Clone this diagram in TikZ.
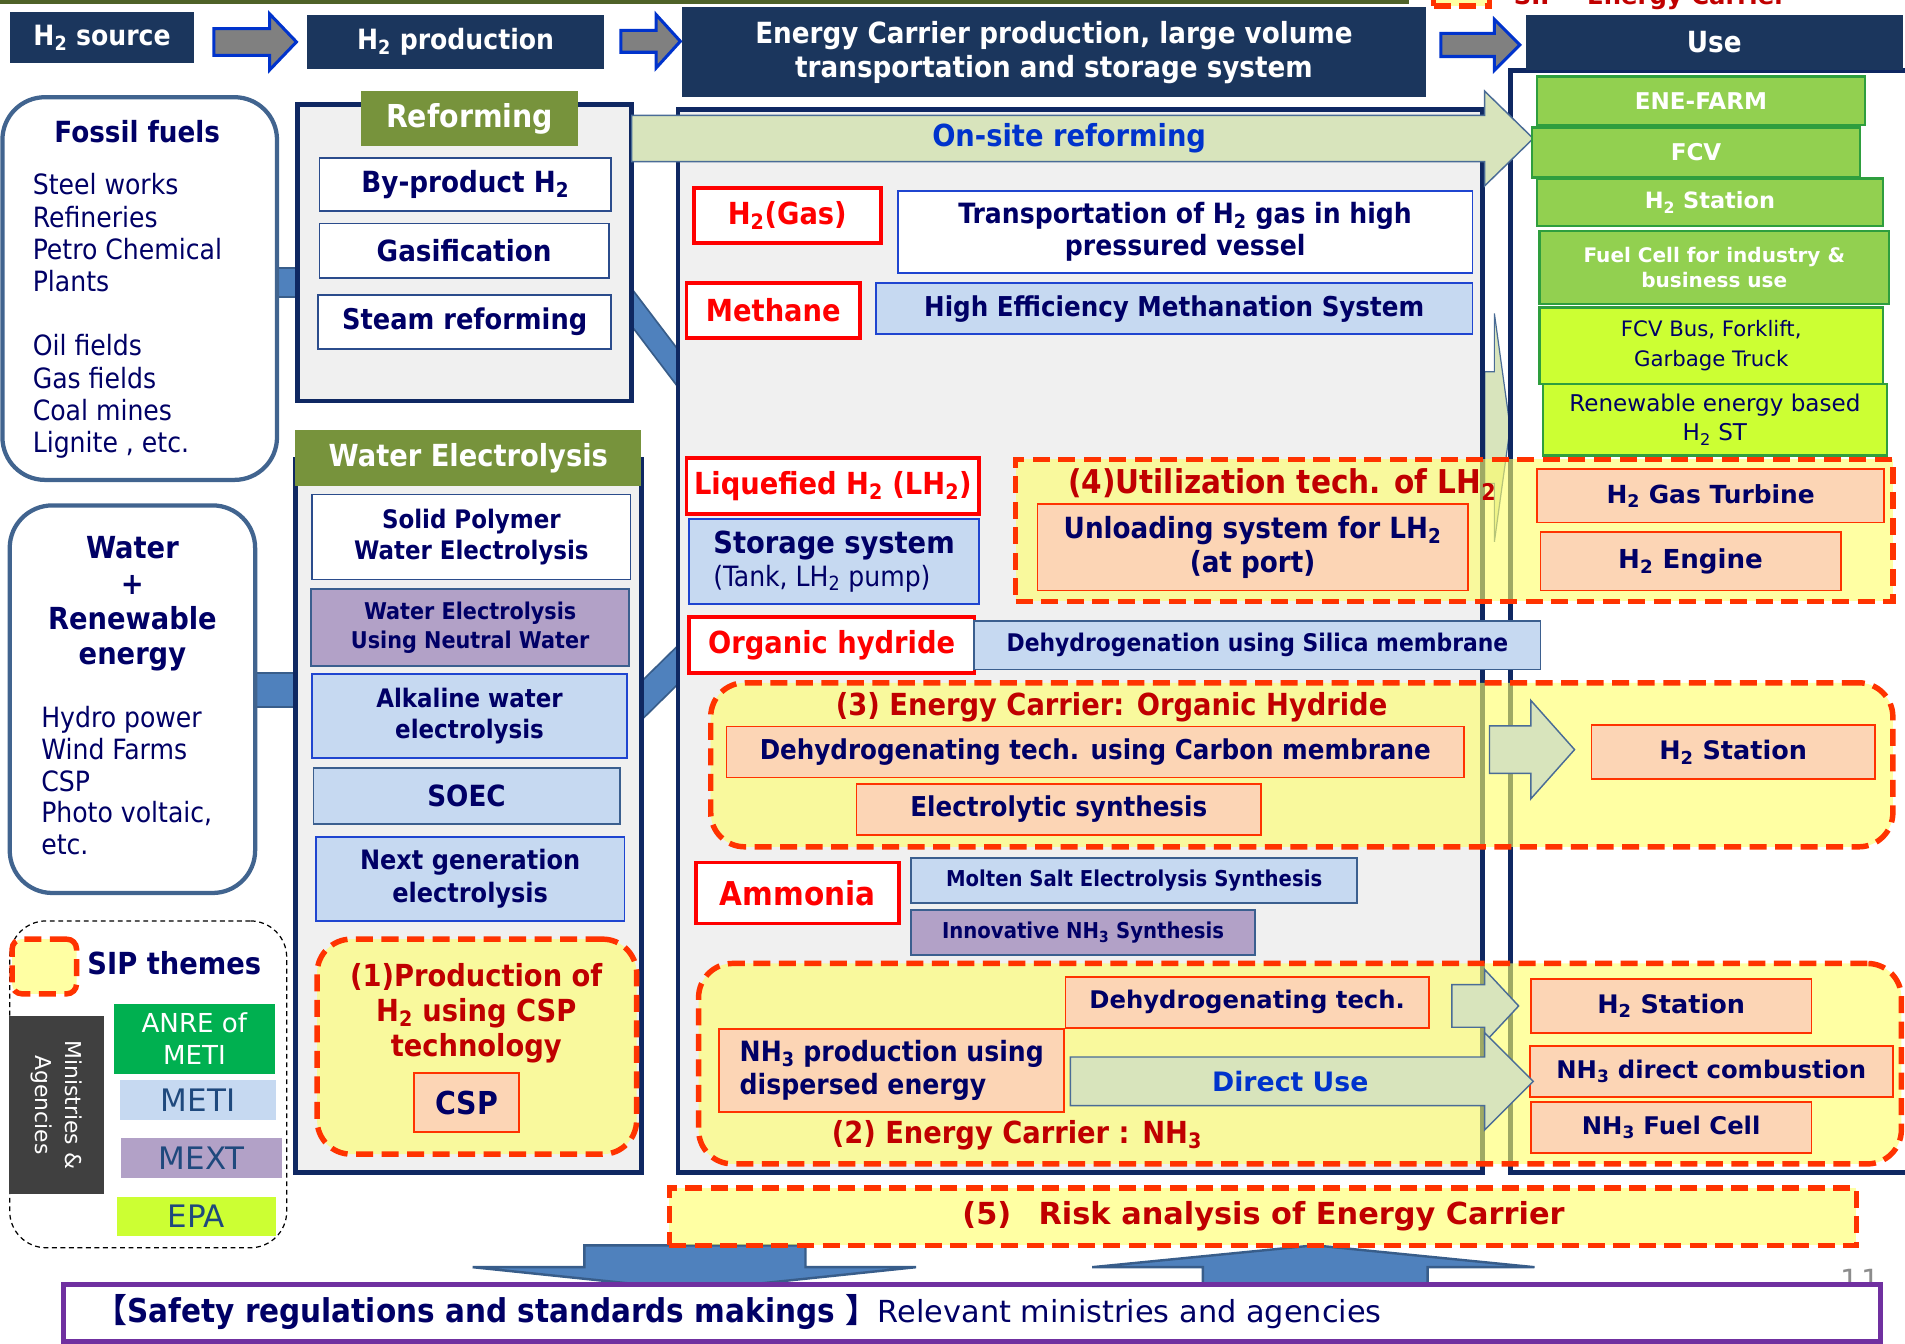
\documentclass[tikz,border=0pt]{standalone}
\usepackage{fontspec}
\setmainfont{DejaVu Sans}
\newfontfamily\cnd{DejaVu Sans Condensed}
\newfontfamily\cjk{Noto Sans CJK JP}
\usetikzlibrary{calc,backgrounds}

\definecolor{hdrc}{HTML}{1B365D}
\definecolor{navyline}{HTML}{0F2862}
\definecolor{panelc}{HTML}{F0F0F0}
\definecolor{tabc}{HTML}{77933C}
\definecolor{bandc}{HTML}{4F81BD}
\definecolor{bandedge}{HTML}{385D8A}
\definecolor{roundedge}{HTML}{41648F}
\definecolor{wedge}{HTML}{2B4C8C}
\definecolor{lbluec}{HTML}{C6D9F1}
\definecolor{bluedge}{HTML}{1F45D0}
\definecolor{steeledge}{HTML}{3B5F8F}
\definecolor{purplec}{HTML}{B2A1C7}
\definecolor{peachc}{HTML}{FCD5B5}
\definecolor{peachedge}{HTML}{FF3300}
\definecolor{sipred}{HTML}{FF3300}
\definecolor{sipyellow}{HTML}{FFFF66}
\definecolor{lgreenc}{HTML}{D8E4BC}
\definecolor{lgreenedge}{HTML}{4A6C96}
\definecolor{usegreen}{HTML}{92D050}
\definecolor{usegreenedge}{HTML}{2E9E3E}
\definecolor{ygreen}{HTML}{CCFF33}
\definecolor{anrec}{HTML}{00B050}
\definecolor{minagc}{HTML}{404040}
\definecolor{arrgray}{HTML}{808080}
\definecolor{arrblue}{HTML}{0033CC}
\definecolor{safetyc}{HTML}{7030A0}
\definecolor{darkredt}{HTML}{C00000}
\definecolor{redt}{HTML}{FF0000}
\definecolor{bluet}{HTML}{0033CC}
\definecolor{navyt}{HTML}{000066}
\definecolor{metit}{HTML}{1F497D}
\definecolor{olivec}{HTML}{4F6228}
\definecolor{pagegray}{HTML}{8C8C8C}

\newcommand{\Hii}{H\textsubscript{2}}
\newcommand{\LHii}{LH\textsubscript{2}}
\newcommand{\NHiii}{NH\textsubscript{3}}
% block arrow: style, start, tip, head length, half body, half head
\newcommand{\rarr}[6]{%
  \draw[#1] let \p1=(#2), \p2=(#3) in
    (\x1,\y2+#5pt) -- (\x2-#4pt,\y2+#5pt) -- (\x2-#4pt,\y2+#6pt) -- (\p2)
    -- (\x2-#4pt,\y2-#6pt) -- (\x2-#4pt,\y2-#5pt) -- (\x1,\y2-#5pt) -- cycle;}

\begin{document}
\begin{tikzpicture}[x=1pt, y=-1pt,
    bx/.style={rectangle, inner sep=0pt, outer sep=0pt, align=center},
    sz/.style 2 args={minimum width=#1pt, minimum height=#2pt},
    cb/.style 2 args={font=\cnd\bfseries\fontsize{#1}{#2}\selectfont},
    cr/.style 2 args={font=\cnd\fontsize{#1}{#2}\selectfont},
    vb/.style 2 args={font=\bfseries\fontsize{#1}{#2}\selectfont},
    vr/.style 2 args={font=\fontsize{#1}{#2}\selectfont},
    hdr/.style={bx, fill=hdrc, text=white},
    panel/.style={bx, fill=panelc, draw=navyline, line width=4pt},
    tab/.style={bx, fill=tabc, text=white},
    roundbox/.style={bx, fill=white, draw=roundedge, line width=3.5pt, rounded corners=35pt},
    wbox/.style={bx, fill=white, draw=wedge, line width=1.5pt, text=navyt},
    lbbox/.style={bx, fill=lbluec, draw=bluedge, line width=1.5pt, text=navyt},
    lbsbox/.style={bx, fill=lbluec, draw=steeledge, line width=1.5pt, text=navyt},
    pbox/.style={bx, fill=purplec, draw=steeledge, line width=1.5pt, text=navyt},
    redbox/.style={bx, fill=white, draw=redt, line width=3pt, text=redt},
    peach/.style={bx, fill=peachc, draw=peachedge, line width=1.5pt, text=navyt},
    ugbox/.style={bx, fill=usegreen, draw=usegreenedge, line width=2pt, text=white},
    ygbox/.style={bx, fill=ygreen, draw=usegreenedge, line width=2pt, text=navyt},
    sip/.style={bx, draw=sipred, line width=4.5pt, dash pattern=on 14pt off 7pt, fill=sipyellow, fill opacity=0.6},
    sipr/.style={sip, rounded corners=28pt},
    siptitle/.style={bx, cb={25}{29}, text=darkredt},
    gblk/.style={fill=arrgray, draw=arrblue, line width=2.5pt},
    garr/.style={fill=lgreenc, draw=lgreenedge, line width=1.2pt},
    fadearr/.style={fill=lgreenc, draw=lgreenedge, line width=1pt},
    bluearr/.style={fill=bandc, draw=bandedge, line width=2pt},
    band/.style={draw=bandedge, line width=1.5pt, double=bandc, double distance=#1}
  ]
  \useasboundingbox (0,0) rectangle (1568,1106);
  \fill[olivec] (0,0) rectangle (1160,3.5);
  \node[sip, sz={46}{30}] (siptopsq) at (1203,-10) {};
  \node[bx, anchor=base west, vb={20}{24}, text=darkredt] (siptop) at (1246,3.5) {SIP – Energy Carrier};

  % sources
  \node[roundbox, sz={226}{315}] (fossil) at (115,237.5) {};
  \node[bx, cb={24}{28}, text=navyt] (fossilT) at (113,108) {Fossil fuels};
  \node[bx, anchor=north west, align=left, cr={23}{26.5}, text=navyt] (fossilL) at (27,143)
    {Steel works\\Refineries\\Petro Chemical\\Plants\\[26.5pt]Oil fields\\Gas fields\\Coal mines\\Lignite , etc.};
  \node[roundbox, sz={202}{319}] (water) at (109,575.5) {};
  \node[bx, cb={25}{29}, text=navyt] (waterT) at (109,497) {Water\\+\\Renewable\\energy};
  \node[bx, anchor=north west, align=left, cr={23}{26.3}, text=navyt] (waterL) at (34,581)
    {Hydro power\\Wind Farms\\CSP\\Photo voltaic,\\etc.};

  % panels
  \node[panel, sz={275}{244}] (refpanel) at (382.5,208) {};
  \node[panel, sz={285}{587}] (wepanel) at (385.5,671.5) {};
  \node[panel, sz={662}{875}] (midpanel) at (889,527.5) {};
  \node[bx, fill=white, draw=navyline, line width=4pt, sz={347}{907}] (usepanel) at (1416.5,511.5) {};

  % headers
  \node[hdr, sz={152}{42}, cb={23}{27}] (src) at (84,31) {\Hii{} source};
  \node[hdr, sz={244}{45}, cb={23}{27}] (prod) at (375,34.5) {\Hii{} production};
  \node[hdr, sz={613}{74}, cb={24}{28}] (ec) at (867.5,43) {Energy Carrier production, large volume\\transportation and storage system};
  \node[hdr, sz={310}{46}, cb={24}{28}] (usehd) at (1411,35) {Use};
  \rarr{gblk}{$(src.east)+(16,0)$}{$(prod.west)+(-9,0)$}{22}{11}{23}
  \rarr{gblk}{$(prod.east)+(14,0)$}{$(ec.west)+(-1,-9)$}{20}{9}{22}
  \rarr{gblk}{$(ec.east)+(12,0)$}{$(usehd.west)+(-5,2)$}{21}{9.5}{21}

  % H2 production
  \node[tab, sz={179}{45}, cb={26}{30}] (reftab) at (386.5,97.5) {Reforming};
  \node[wbox, sz={240}{44}, cb={24}{28}] (byprod) at (383,152) {By-product \Hii};
  \node[wbox, sz={238}{45}, cb={24}{28}] (gasif) at (382,206.5) {Gasification};
  \node[wbox, sz={241}{44}, cb={23.5}{28}] (steam) at (382.5,265) {Steam reforming};
  \node[tab, sz={285}{46}, cb={25}{29}] (wetab) at (385.5,377) {Water Electrolysis};
  \node[wbox, sz={262}{70}, cb={21}{26}] (spe) at (388,442) {Solid Polymer\\Water Electrolysis};
  \node[pbox, sz={262}{63}, cb={19}{24}] (neutral) at (387,516.5) {Water Electrolysis\\Using Neutral Water};
  \node[lbbox, sz={259}{69}, cb={21}{26}] (alkaline) at (386.5,589.5) {Alkaline water\\electrolysis};
  \node[lbsbox, sz={252}{46}, cb={24}{28}] (soec) at (384,655) {SOEC};
  \node[lbbox, sz={254}{69}, cb={22}{27}] (nextgen) at (387,723.5) {Next generation\\electrolysis};

  % carriers
  \node[redbox, sz={154}{45}, cb={25}{29}] (h2gas) at (648,177.5) {\Hii(Gas)};
  \node[wbox, draw=bluedge, sz={473}{68}, cb={23}{26}] (transport) at (975.5,191) {Transportation of \Hii{} gas in high\\pressured vessel};
  \node[redbox, sz={143}{45}, cb={25}{29}] (methane) at (636.5,255.5) {Methane};
  \node[lbbox, sz={491}{42}, cb={22.5}{26}] (methanation) at (966.5,254) {High Efficiency Methanation System};
  \node[redbox, sz={241}{46}, cb={25}{29}] (lh2) at (685.5,400) {Liquefied \Hii{} (\LHii)};
  \node[lbbox, sz={239}{70}, align=left, cb={25}{27}] (storage) at (686.5,462)
    {Storage system\\{\mdseries\fontsize{23}{27}\selectfont (Tank, \LHii{} pump)}};
  \node[redbox, sz={235}{46}, cb={25}{29}] (orghyd) at (684.5,531) {Organic hydride};
  \node[lbsbox, sz={466}{40}, cb={20}{24}] (silica) at (1035,531) {Dehydrogenation using Silica membrane};
  \node[redbox, sz={167}{50}, cb={27}{31}] (ammonia) at (656.5,735) {Ammonia};
  \node[lbsbox, sz={367}{37}, cb={18}{22}] (molten) at (933.5,724.5) {Molten Salt Electrolysis Synthesis};
  \node[pbox, sz={283}{37}, cb={18}{22}] (innov) at (891.5,767.5) {Innovative \NHiii{} Synthesis};

  \coordinate (onsitetip) at (1262,114);
  \rarr{garr}{refpanel.east}{onsitetip}{40}{19}{39}
  \node[bx, cb={25}{29}, text=bluet] (onsite) at (880,114) {On-site reforming};

  % use
  \node[ugbox, sz={270}{40}, vb={19}{23}] (enefarm) at (1400,83) {ENE-FARM};
  \node[ugbox, sz={270}{41}, vb={19}{23}] (fcv) at (1396,125.5) {FCV};
  \node[ugbox, sz={285}{39}, vb={18.5}{22}] (station1) at (1407.5,166.5) {\Hii{} Station};
  \node[ugbox, sz={288}{60}, vb={16.5}{21}] (fcind) at (1411,220) {Fuel Cell for industry \&\\business use};
  \node[ygbox, sz={283}{63}, vr={17.5}{24}] (bus) at (1408.5,284.5) {FCV Bus, Forklift,\\Garbage Truck};
  \node[ygbox, sz={283}{59}, vr={19}{24}] (renew) at (1411.5,345.5) {Renewable energy based\\\Hii{} ST};

  % SIP themes
  \node[sip, sz={722}{117}] (sip4) at (1197,436.5) {};
  \node[siptitle, cb={27}{31}] (sip4T) at (1055.5,399) {(4)Utilization tech. of \LHii};
  \node[peach, sz={354}{71}, cb={24}{28}] (unload) at (1031,450.5) {Unloading system for \LHii\\(at port)};
  \node[peach, sz={286}{44}, vb={20.5}{24}] (turbine) at (1408,408) {\Hii{} Gas Turbine};
  \node[peach, sz={247}{48}, vb={21.5}{25}] (engine) at (1391.5,462) {\Hii{} Engine};

  \node[sipr, sz={973}{135}] (sip3) at (1071.5,629.5) {};
  \node[siptitle] (sip3T) at (915,582) {(3) Energy Carrier: Organic Hydride};
  \node[peach, sz={607}{42}, cb={22.5}{26}] (carbon) at (901.5,619) {Dehydrogenating tech. using Carbon membrane};
  \node[peach, sz={333}{42}, cb={22.5}{26}] (electro) at (871.5,666) {Electrolytic synthesis};
  \node[peach, sz={233}{44}, vb={21}{25}] (station3) at (1426.5,619) {\Hii{} Station};
  \rarr{garr}{$(carbon.east)+(21,0)$}{$(station3.west)+(-14,-2)$}{36}{19.5}{40.5}

  \node[sipr, sz={990}{165}] (sip2) at (1070,875.5) {};
  \node[siptitle] (sip2T) at (837,934) {(2) Energy Carrier : \NHiii};
  \node[peach, sz={299}{42}, vb={20}{24}] (dehyd) at (1026.5,825) {Dehydrogenating tech.};
  \node[peach, sz={284}{68}, align=left, cb={23}{27}] (nh3prod) at (734,881) {\NHiii{} production using\\dispersed energy};
  \node[peach, sz={231}{44}, vb={21}{25}] (station2) at (1375.5,828) {\Hii{} Station};
  \node[peach, sz={299}{42}, vb={20}{24}] (combust) at (1408.5,882) {\NHiii{} direct combustion};
  \node[peach, sz={231}{42}, vb={20}{24}] (nh3fc) at (1375.5,928) {\NHiii{} Fuel Cell};
  \rarr{garr}{$(dehyd.east)+(19,0)$}{$(station2.west)+(-10,0)$}{28}{17.5}{30}
  \rarr{garr}{$(nh3prod.east)+(5,0)$}{$(combust.west)+(3,8)$}{40}{20}{40}
  \node[bx, vb={22}{26}, text=bluet] (direct) at (1062,890) {Direct Use};

  \node[sipr, sz={263}{177}] (sip1) at (392.5,861.5) {};
  \node[siptitle] (sip1T) at (392,834) {(1)Production of\\\Hii{} using CSP\\technology};
  \node[peach, sz={86}{49}, cb={26}{30}] (csp) at (384,907.5) {CSP};

  % legend
  \node[bx, draw=black, dash pattern=on 4pt off 3pt, line width=1pt, rounded corners=30pt, sz={228}{269}] (legend) at (122,892.5) {};
  \node[sip, rounded corners=8pt, sz={53}{45}] (sipsq) at (36.5,795.5) {};
  \node[bx, anchor=west, cb={25}{29}, text=navyt] (sipthemes) at (72,793) {SIP themes};
  \node[bx, fill=minagc, text=white, rotate=-90, sz={147}{79}, vr={18}{24}] (minag) at (46.5,909.5) {Ministries \&\\Agencies};
  \node[bx, fill=anrec, text=white, sz={132}{58}, vr={21.5}{26}] (anre) at (160,855) {ANRE of\\METI};
  \node[bx, fill=lbluec, text=metit, sz={128}{33}, vr={25.5}{29}] (meti) at (163,905.5) {METI};
  \node[bx, fill=purplec, text=metit, sz={132}{33}, vr={25.5}{29}] (mext) at (166,953.5) {MEXT};
  \node[bx, fill=ygreen, text=metit, sz={131}{32}, vr={25.5}{29}] (epa) at (161.5,1001) {EPA};

  % regulations
  \coordinate (dntip) at (572,1062);
  \coordinate (uptip) at (1082,1025);
  \draw[bluearr] (dntip) -- ++(182,-19) -- ++(-91,0) -- ++(0,-18) -- ++(-182,0) -- ++(0,18) -- ++(-92,0) -- cycle;
  \draw[bluearr] (uptip) -- ++(181,18) -- ++(-88,0) -- ++(0,17) -- ++(-185,0) -- ++(0,-17) -- ++(-91,0) -- cycle;
  \node[bx, vr={24}{28}, text=pagegray, anchor=base] (pageno) at (1531,1062) {1\hspace{2pt}1};
  \node[bx, fill=white, draw=safetyc, line width=4pt, sz={1496}{47}] (safety) at (800,1080.5) {};
  \node[bx, anchor=west, cb={27}{31}, text=navyt] (safetyT) at (78,1080)
    {{\cjk\bfseries 【}Safety regulations and standards makings {\cjk\bfseries 】}{\normalfont\fontsize{25}{29}\selectfont Relevant ministries and agencies}};
  \node[sip, sz={977}{47}] (sip5) at (1039.5,1001.5) {};
  \node[bx, vb={25}{29}, text=darkredt] (sip5T) at (1040,1001) {(5)\hspace{0.9em}Risk analysis of Energy Carrier};

  % links behind the panels
  \coordinate (fadeS) at (1222,352);
  \coordinate (fadeT) at (1243,352);
  \begin{pgfonlayer}{background}
    \draw[band=22pt] ($(fossil.east)+(-6,-5)$) -- ($(refpanel.west)+(6,24.5)$);
    \draw[band=27pt] ($(water.east)+(-6,-7.5)$) -- ($(wepanel.west)+(6,-103.5)$);
    \draw[band=17pt] ($(refpanel.east)+(-15,25.3)$) -- ($(midpanel.west)+(17,-202)$);
    \draw[band=21pt] ($(wepanel.east)+(-15,-80)$) -- ($(midpanel.west)+(15,5)$);
    \rarr{fadearr}{fadeS}{fadeT}{13}{46}{94}
  \end{pgfonlayer}
\end{tikzpicture}
\end{document}
